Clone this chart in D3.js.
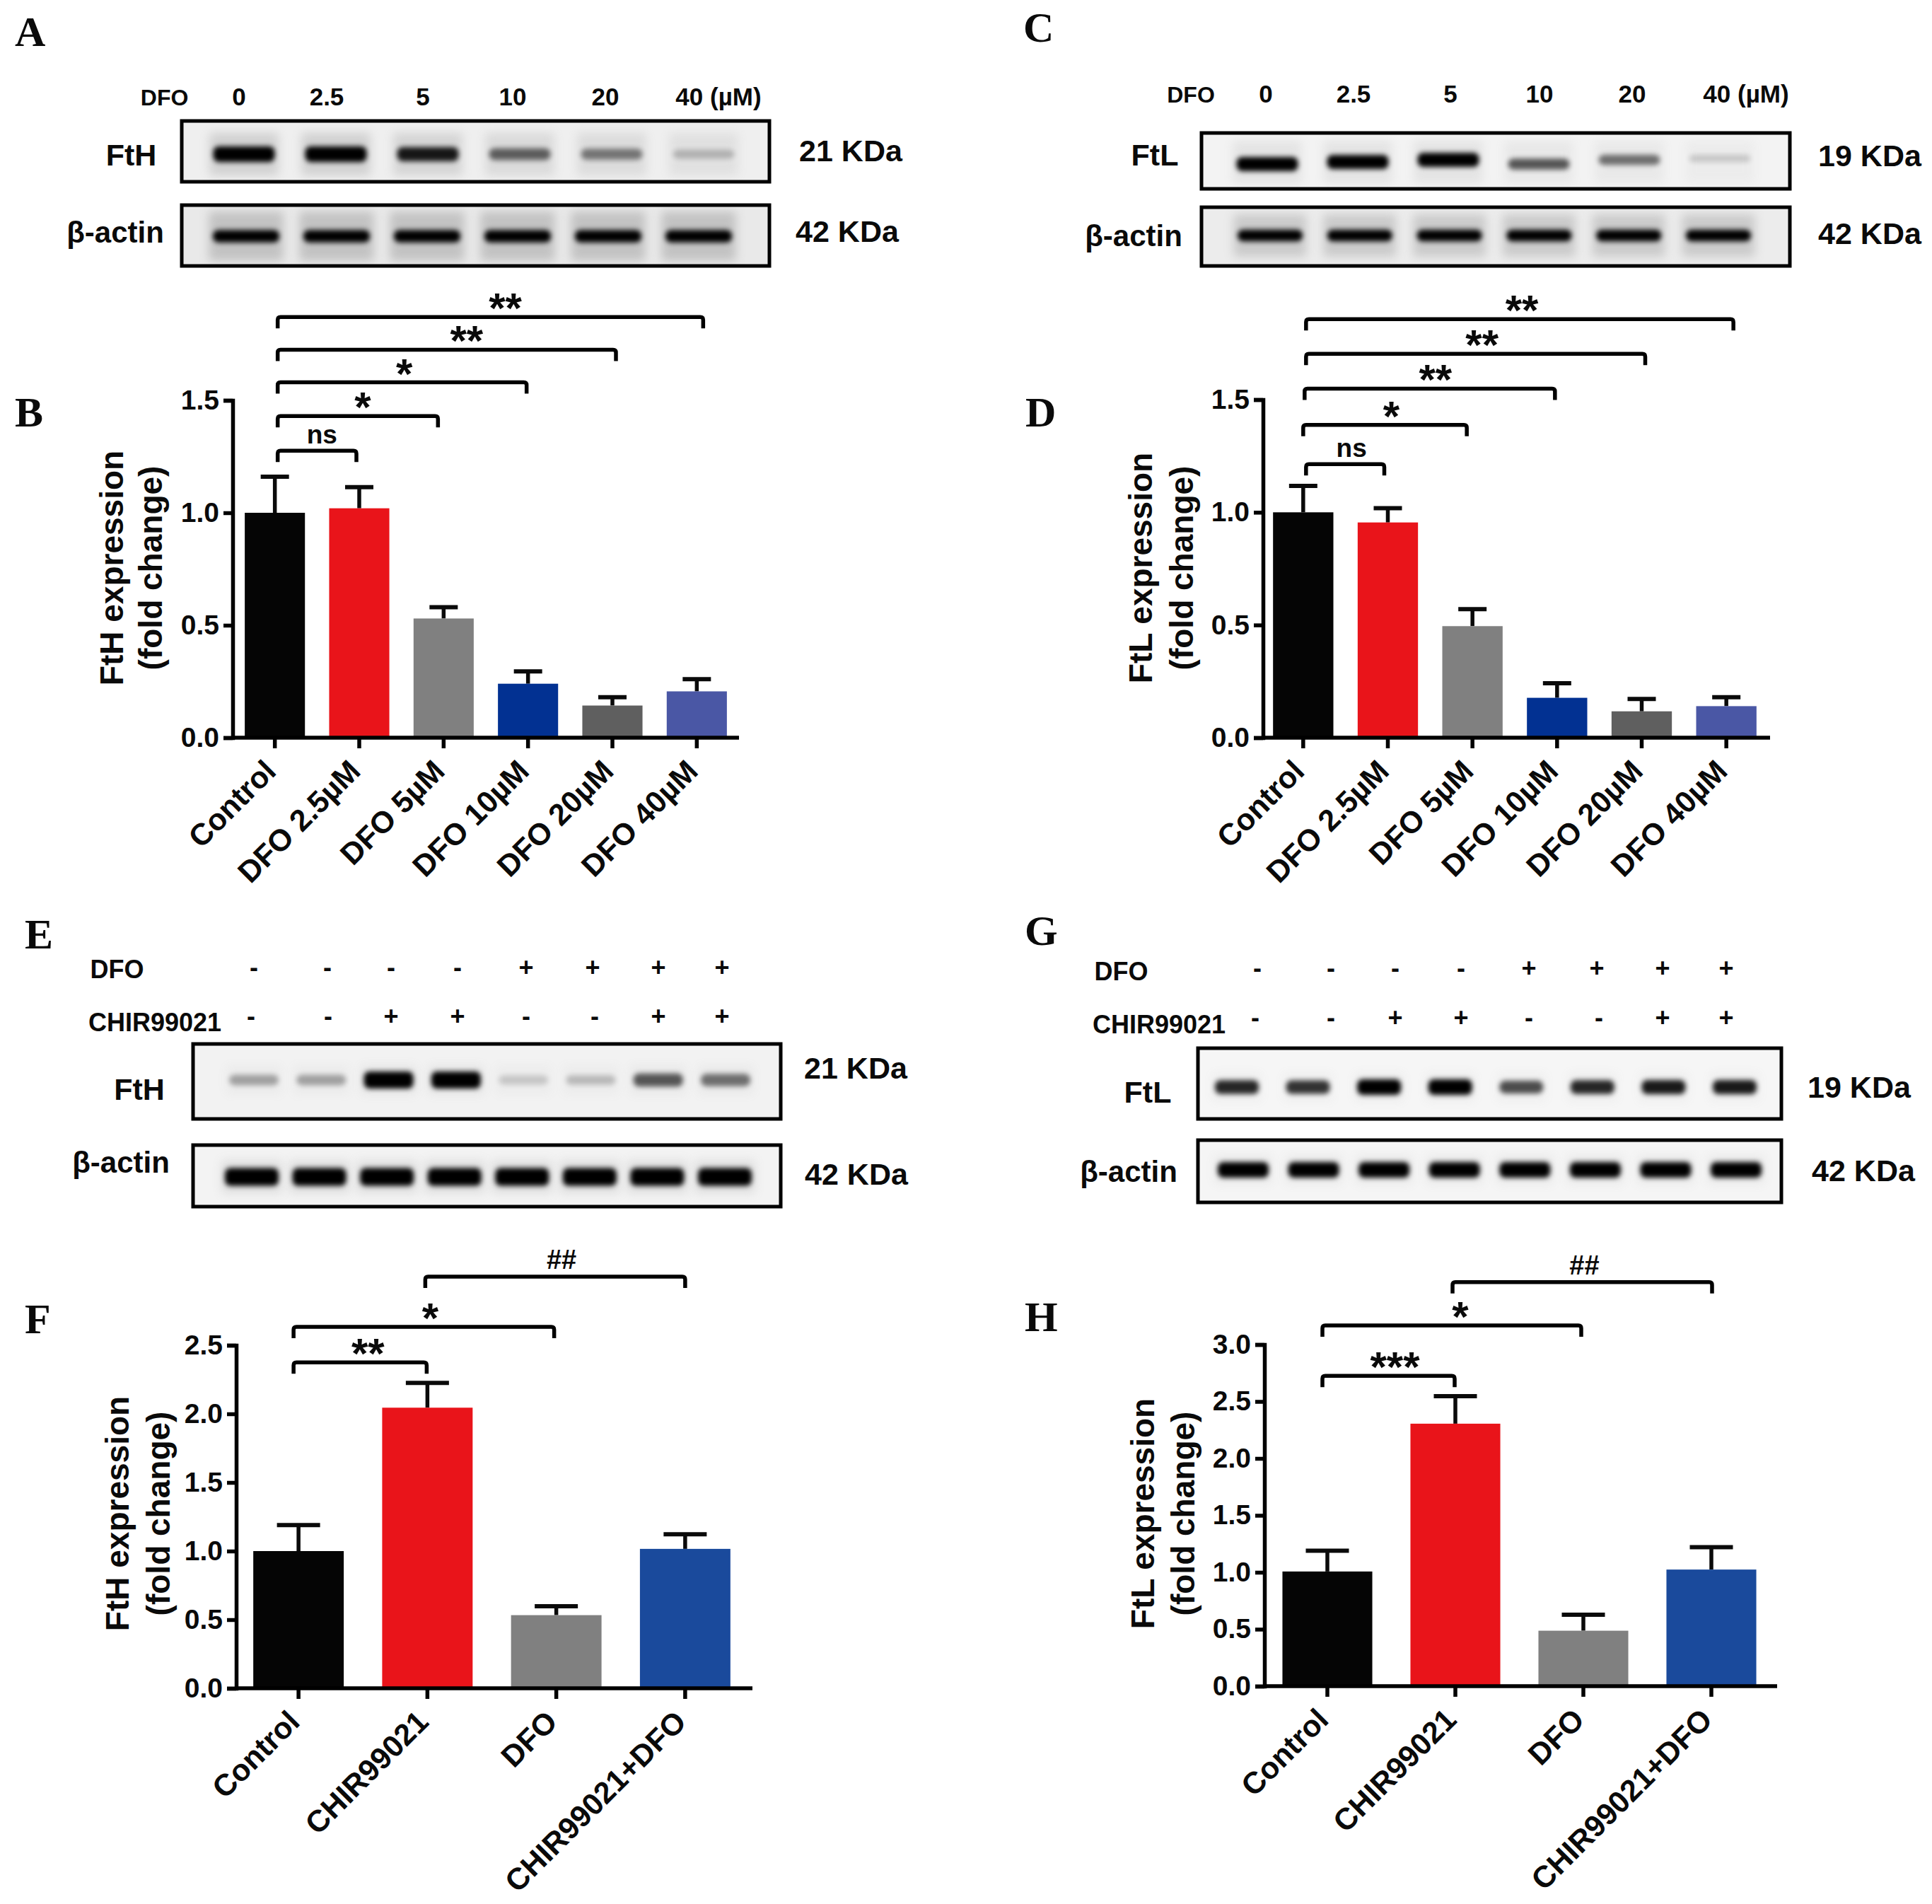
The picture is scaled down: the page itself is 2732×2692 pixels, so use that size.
<!DOCTYPE html>
<html>
<head>
<meta charset="utf-8">
<script src="https://cdn.jsdelivr.net/npm/d3@7"></script>
<style>
  html, body { margin: 0; background: #fff; }
  text { font-family: "Liberation Sans", Arial, sans-serif; font-weight: bold; fill: #0a0a0a; }
  .letter { font-family: "Liberation Serif", serif; font-size: 60px; }
</style>
</head>
<body>
<div id="chart"></div>
<script>
// values
const doseGroups = ['Control', 'DFO 2.5µM', 'DFO 5µM', 'DFO 10µM', 'DFO 20µM', 'DFO 40µM'];
const chirGroups = ['Control', 'CHIR99021', 'DFO', 'CHIR99021+DFO'];

const fthDoseMean = [1.0, 1.02, 0.53, 0.24, 0.143, 0.206];
const fthDoseTop = [1.16, 1.114, 0.58, 0.295, 0.18, 0.26];
const ftlDoseMean = [1.0, 0.955, 0.495, 0.177, 0.117, 0.14];
const ftlDoseTop = [1.117, 1.018, 0.57, 0.242, 0.172, 0.18];
const fthChirMean = [1.0, 2.045, 0.533, 1.016];
const fthChirTop = [1.19, 2.226, 0.598, 1.122];
const ftlChirMean = [1.007, 2.305, 0.487, 1.024];
const ftlChirTop = [1.19, 2.546, 0.627, 1.22];

const doseColors = ['#050505', '#e9141a', '#808080', '#023192', '#5f5f5f', '#4a57a5'];
const chirColors = ['#050505', '#e9141a', '#808080', '#1a4a9c'];

// brackets: from, to, level on the y axis, label, then small nudges in px (left, right, label)
const fthDoseSig = [
    [0, 1, 1.276, 'ns', 4, -4, 7],
    [0, 2, 1.43, '*', 4, -8, 7],
    [0, 3, 1.58, '*', 4, -2, 3],
    [0, 4, 1.725, '**', 4, 5, 28],
    [0, 5, 1.87, '**', 4, 9, 21]
];
const ftlDoseSig = [
    [0, 1, 1.214, 'ns', 4, -5, 9],
    [0, 2, 1.388, '*', 0, -8, 9],
    [0, 3, 1.549, '**', 2, -3, 8],
    [0, 4, 1.703, '**', 4, 5, 9],
    [0, 5, 1.857, '**', 4, 10, 3]
];
const fthChirSig = [
    [0, 1, 2.375, '**', -7, -1, 11],
    [0, 2, 2.634, '*', -7, -3, 9],
    [1, 3, 3.0, '##', -3, 0, 9]
];
const ftlChirSig = [
    [0, 1, 2.725, '***', -7, -1, 9],
    [0, 2, 3.167, '*', -7, -3, 12],
    [1, 3, 3.548, '##', -4, 1, 3]
];

// blot band strength per lane
const fthDoseBands = [1, 1, 0.85, 0.55, 0.45, 0.2];
const ftlDoseBands = [1, 1, 1, 0.6, 0.5, 0.15];
const actinDoseBands = [0.95, 0.95, 0.95, 0.95, 0.95, 0.95];
const fthChirBands = [0.3, 0.3, 1, 1, 0.15, 0.2, 0.6, 0.5];
const ftlChirBands = [0.8, 0.75, 1, 1, 0.65, 0.8, 0.85, 0.85];
const actinChirBands = [1, 1, 1, 1, 1, 1, 1, 1];

const doseLabels = ['0', '2.5', '5', '10', '20', '40 (µM)'];
const dfoSigns = ['-', '-', '-', '-', '+', '+', '+', '+'];
const chirSigns = ['-', '-', '+', '+', '-', '-', '+', '+'];

const W = 2732, H = 2692;

const svg = d3.select('#chart').append('svg')
    .attr('width', W).attr('height', H)
    .style('display', 'block');

svg.append('rect').attr('width', W).attr('height', H).attr('fill', '#fff');

const defs = svg.append('defs');
defs.append('filter').attr('id', 'bandBlur')
    .attr('x', '-30%').attr('y', '-100%').attr('width', '160%').attr('height', '300%')
    .append('feGaussianBlur').attr('stdDeviation', 3.5);
defs.append('filter').attr('id', 'haloBlur')
    .attr('x', '-30%').attr('y', '-60%').attr('width', '160%').attr('height', '220%')
    .append('feGaussianBlur').attr('stdDeviation', 7);

function label(str, x, y, size, cls) {
    return svg.append('text')
        .attr('class', cls || null)
        .attr('x', x).attr('y', y)
        .attr('text-anchor', cls ? 'start' : 'middle')
        .attr('font-size', size)
        .text(str);
}

function drawBlot(b, idx) {
    const id = 'clip' + idx;
    defs.append('clipPath').attr('id', id).append('rect')
        .attr('x', b.x0).attr('y', b.y0).attr('width', b.x1 - b.x0).attr('height', b.y1 - b.y0);

    const lane = d3.scalePoint().domain(d3.range(b.bands.length)).range(b.lanes);
    const g = svg.append('g');
    g.append('rect').attr('x', b.x0).attr('y', b.y0)
        .attr('width', b.x1 - b.x0).attr('height', b.y1 - b.y0)
        .attr('fill', b.bg);

    const inner = g.append('g').attr('clip-path', `url(#${id})`);
    inner.selectAll('.halo').data(b.bands).enter().append('rect')
        .attr('class', 'halo')
        .attr('x', (d, i) => lane(i) - b.bw * 0.56)
        .attr('width', b.bw * 1.12)
        .attr('y', b.cy - b.halo / 2)
        .attr('height', b.halo)
        .attr('fill', '#8c8c8c')
        .attr('opacity', d => b.haloAlpha * (0.35 + 0.65 * d))
        .attr('filter', 'url(#haloBlur)');
    inner.selectAll('.band').data(b.bands).enter().append('rect')
        .attr('class', 'band')
        .attr('x', (d, i) => lane(i) - b.bw / 2)
        .attr('width', b.bw)
        .attr('y', (d, i) => b.cy + (b.nudge ? b.nudge[i] : 0) - b.th * (0.45 + 0.55 * d) / 2)
        .attr('height', d => b.th * (0.45 + 0.55 * d))
        .attr('rx', 8)
        .attr('fill', '#000')
        .attr('opacity', d => Math.min(1, d * 1.05))
        .attr('filter', 'url(#bandBlur)');

    g.append('rect').attr('x', b.x0).attr('y', b.y0)
        .attr('width', b.x1 - b.x0).attr('height', b.y1 - b.y0)
        .attr('fill', 'none').attr('stroke', '#000').attr('stroke-width', 5);
}

function drawBars(p) {
    const x = d3.scaleBand().domain(p.groups).range([p.left, p.right])
        .paddingInner(p.pad).paddingOuter(p.pad / 2);
    const y = d3.scaleLinear().domain([0, p.yMax]).range([p.y0, p.yTop]);
    const g = svg.append('g');
    const cx = i => x(p.groups[i]) + x.bandwidth() / 2;

    // error bars first, the bars sit on top of the lower half
    const err = g.append('g');
    err.selectAll('.stem').data(p.tops).enter().append('line')
        .attr('x1', (d, i) => cx(i)).attr('x2', (d, i) => cx(i))
        .attr('y1', (d, i) => y(p.means[i])).attr('y2', d => y(d))
        .attr('stroke', '#0a0a0a').attr('stroke-width', 5.5);
    err.selectAll('.cap').data(p.tops).enter().append('line')
        .attr('x1', (d, i) => cx(i) - p.cap / 2).attr('x2', (d, i) => cx(i) + p.cap / 2)
        .attr('y1', d => y(d)).attr('y2', d => y(d))
        .attr('stroke', '#0a0a0a').attr('stroke-width', 6);

    g.selectAll('.bar').data(p.means).enter().append('rect')
        .attr('class', 'bar')
        .attr('x', (d, i) => x(p.groups[i]))
        .attr('width', x.bandwidth())
        .attr('y', d => y(d))
        .attr('height', d => y(0) - y(d))
        .attr('fill', (d, i) => p.colors[i]);

    const yAxis = d3.axisLeft(y).tickValues(d3.range(0, p.yMax + 0.01, 0.5))
        .tickFormat(d3.format('.1f')).tickSize(13).tickPadding(6);
    const yG = g.append('g').attr('transform', `translate(${p.axisX},0)`).call(yAxis);
    yG.selectAll('.tick line, .domain').attr('stroke', '#000').attr('stroke-width', 5.5);
    yG.selectAll('text').attr('font-size', 39).attr('fill', '#0a0a0a');

    const xAxis = d3.axisBottom(x).tickSize(15).tickSizeOuter(0);
    const xG = g.append('g').attr('transform', `translate(0,${p.y0})`).call(xAxis);
    xG.select('.domain').attr('d', `M${p.axisX},0H${p.axisEnd}`);
    xG.selectAll('.tick line, .domain').attr('stroke', '#000').attr('stroke-width', 5.5);
    xG.selectAll('text')
        .attr('x', 0).attr('y', 0).attr('dy', 0)
        .attr('text-anchor', 'end')
        .attr('transform', 'translate(4,50) rotate(-45)')
        .attr('font-size', 43)
        .attr('fill', '#0a0a0a');

    p.labels.forEach(l => {
        svg.append('text')
            .attr('transform', `translate(${l[1]},${p.labelY}) rotate(-90)`)
            .attr('text-anchor', 'middle')
            .attr('font-size', 46)
            .text(l[0]);
    });

    p.sig.forEach(s => {
        const xa = cx(s[0]) + s[4];
        const xb = cx(s[1]) + s[5];
        const yy = y(s[2]);
        const path = d3.path();
        path.moveTo(xa, yy + 16);
        path.lineTo(xa, yy + 4);
        path.quadraticCurveTo(xa, yy, xa + 4, yy);
        path.lineTo(xb - 4, yy);
        path.quadraticCurveTo(xb, yy, xb, yy + 4);
        path.lineTo(xb, yy + 16);
        g.append('path').attr('d', path.toString())
            .attr('fill', 'none').attr('stroke', '#000').attr('stroke-width', 5.5);

        const lx = (xa + xb) / 2 + s[6];
        const isStar = s[3].includes('*');
        const isHash = s[3].includes('#');
        g.append('text')
            .attr('x', lx)
            .attr('y', yy + (isStar ? 8 : isHash ? -11 : -10))
            .attr('text-anchor', 'middle')
            .attr('font-size', isStar ? 60 : isHash ? 38 : 37)
            .text(s[3]);
    });
}

// panel letters
[['A', 21, 65], ['B', 21, 603], ['C', 1447, 59], ['D', 1450, 603],
 ['E', 35, 1341], ['F', 35, 1885], ['G', 1449, 1336], ['H', 1449, 1882]]
    .forEach(d => label(d[0], d[1], d[2], 60, 'letter'));

// western blots
const blots = [
    { x0: 257, x1: 1088, y0: 171, y1: 257, cy: 218, lanes: [345, 995], bw: 87, th: 22, halo: 60, haloAlpha: 0.3, bg: '#efefef', bands: fthDoseBands },
    { x0: 257, x1: 1088, y0: 290, y1: 376, cy: 334, lanes: [348, 988], bw: 94, th: 18, halo: 70, haloAlpha: 0.42, bg: '#e9e9e9', bands: actinDoseBands },
    { x0: 1699, x1: 2531, y0: 188, y1: 267, cy: 229, lanes: [1792, 2432], bw: 87, th: 20, halo: 60, haloAlpha: 0.14, bg: '#f3f3f3', bands: ftlDoseBands, nudge: [3, 0, -3, 3, -3, -5] },
    { x0: 1699, x1: 2531, y0: 293, y1: 376, cy: 333, lanes: [1796, 2430], bw: 92, th: 17, halo: 60, haloAlpha: 0.36, bg: '#ececec', bands: actinDoseBands },
    { x0: 273, x1: 1104, y0: 1476, y1: 1582, cy: 1527, lanes: [359, 1026], bw: 70, th: 24, halo: 40, haloAlpha: 0.12, bg: '#f2f2f2', bands: fthChirBands },
    { x0: 273, x1: 1104, y0: 1619, y1: 1706, cy: 1664, lanes: [356, 1025], bw: 76, th: 25, halo: 46, haloAlpha: 0.2, bg: '#f3f3f3', bands: actinChirBands },
    { x0: 1694, x1: 2519, y0: 1482, y1: 1582, cy: 1537, lanes: [1749, 2453], bw: 62, th: 22, halo: 40, haloAlpha: 0.08, bg: '#f6f6f6', bands: ftlChirBands },
    { x0: 1694, x1: 2519, y0: 1612, y1: 1700, cy: 1654, lanes: [1758, 2455], bw: 72, th: 22, halo: 40, haloAlpha: 0.1, bg: '#f5f5f5', bands: actinChirBands }
];
blots.forEach(drawBlot);

// text around the blots
label('DFO', 232.6, 149, 32);
[338, 462, 598, 725, 856, 1016].forEach((x, i) => label(doseLabels[i], x, 149, 35));
label('FtH', 185.5, 234, 43);
label('21 KDa', 1203, 228, 43);
label('β-actin', 163, 343, 42);
label('42 KDa', 1198, 342, 43);

label('DFO', 1684, 145, 32);
[1790, 1914, 2051, 2177, 2308, 2469].forEach((x, i) => label(doseLabels[i], x, 145, 35));
label('FtL', 1633, 234, 43);
label('19 KDa', 2644, 235, 43);
label('β-actin', 1603, 348, 42);
label('42 KDa', 2644, 345, 43);

label('DFO', 165.5, 1383, 36);
label('CHIR99021', 219, 1458, 36);
[359, 463, 553, 647, 744, 838, 931, 1021].forEach((x, i) => label(dfoSigns[i], x, 1380, 36));
[355, 464, 553, 647, 744, 841, 931, 1021].forEach((x, i) => label(chirSigns[i], x, 1449, 36));
label('FtH', 197, 1555, 43);
label('21 KDa', 1210, 1525, 43);
label('β-actin', 171, 1658, 42);
label('42 KDa', 1211, 1675, 43);

label('DFO', 1585.5, 1386, 36);
label('CHIR99021', 1639, 1461, 36);
[1778, 1882, 1973, 2066, 2162, 2258, 2351, 2441].forEach((x, i) => label(dfoSigns[i], x, 1381, 36));
[1775, 1882, 1973, 2066, 2162, 2261, 2351, 2441].forEach((x, i) => label(chirSigns[i], x, 1451, 36));
label('FtL', 1623, 1559, 43);
label('19 KDa', 2629, 1552, 43);
label('β-actin', 1596, 1671, 42);
label('42 KDa', 2635, 1670, 43);

// bar panels
drawBars({ groups: doseGroups, means: fthDoseMean, tops: fthDoseTop, colors: doseColors, sig: fthDoseSig,
    left: 329, right: 1045, pad: 0.287, y0: 1043, yTop: 566, yMax: 1.5, axisX: 329, axisEnd: 1045, cap: 40,
    labelY: 803, labels: [['FtH expression', 174], ['(fold change)', 229]] });
drawBars({ groups: doseGroups, means: ftlDoseMean, tops: ftlDoseTop, colors: doseColors, sig: ftlDoseSig,
    left: 1783, right: 2501, pad: 0.287, y0: 1043, yTop: 565, yMax: 1.5, axisX: 1786, axisEnd: 2503, cap: 40,
    labelY: 803, labels: [['FtL expression', 1629], ['(fold change)', 1687]] });
drawBars({ groups: chirGroups, means: fthChirMean, tops: fthChirTop, colors: chirColors, sig: fthChirSig,
    left: 331, right: 1060, pad: 0.298, y0: 2387, yTop: 1902, yMax: 2.5, axisX: 334, axisEnd: 1064, cap: 61,
    labelY: 2140, labels: [['FtH expression', 182], ['(fold change)', 240]] });
drawBars({ groups: chirGroups, means: ftlChirMean, tops: ftlChirTop, colors: chirColors, sig: ftlChirSig,
    left: 1786.5, right: 2510.5, pad: 0.298, y0: 2384, yTop: 1901, yMax: 3, axisX: 1788, axisEnd: 2513, cap: 61,
    labelY: 2140, labels: [['FtL expression', 1632], ['(fold change)', 1689]] });
</script>
</body>
</html>
